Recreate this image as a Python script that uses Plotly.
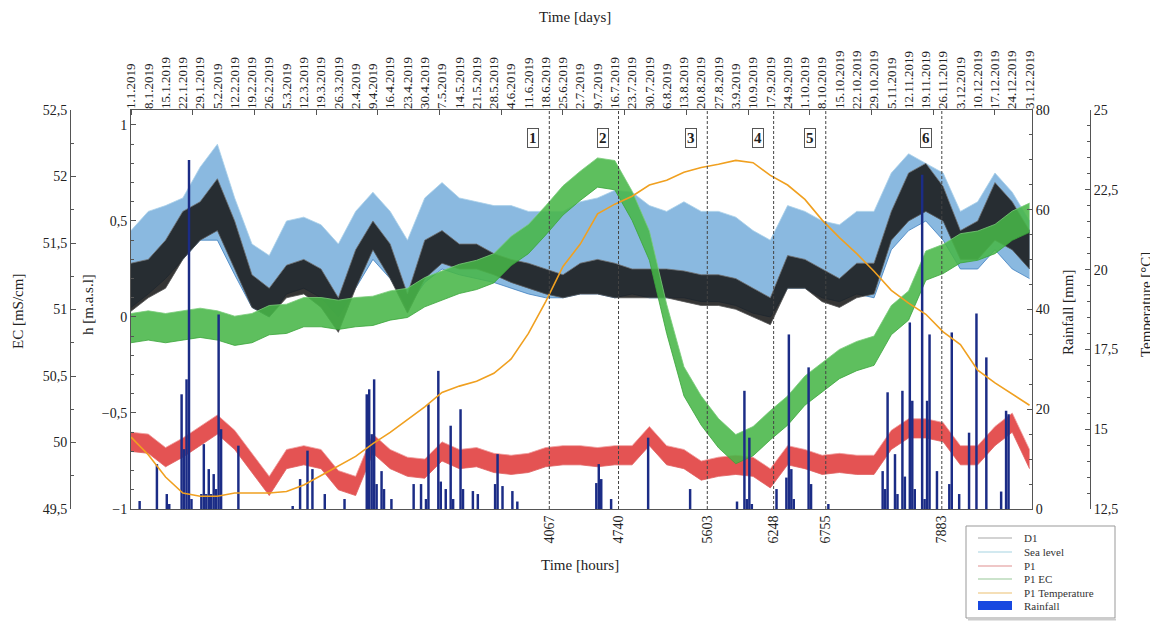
import plotly.graph_objects as go

# ---------------- data ----------------
week_day = list(range(0, 365, 7))  # 1.1.2019 ... 31.12.2019, weekly samples
date_labels = ["1.1.2019", "8.1.2019", "15.1.2019", "22.1.2019", "29.1.2019", "5.2.2019", "12.2.2019",
               "19.2.2019", "26.2.2019", "5.3.2019", "12.3.2019", "19.3.2019", "26.3.2019", "2.4.2019",
               "9.4.2019", "16.4.2019", "23.4.2019", "30.4.2019", "7.5.2019", "14.5.2019", "21.5.2019",
               "28.5.2019", "4.6.2019", "11.6.2019", "18.6.2019", "25.6.2019", "2.7.2019", "9.7.2019",
               "16.7.2019", "23.7.2019", "30.7.2019", "6.8.2019", "13.8.2019", "20.8.2019", "27.8.2019",
               "3.9.2019", "10.9.2019", "17.9.2019", "24.9.2019", "1.10.2019", "8.10.2019", "15.10.2019",
               "22.10.2019", "29.10.2019", "5.11.2019", "12.11.2019", "19.11.2019", "26.11.2019",
               "3.12.2019", "10.12.2019", "17.12.2019", "24.12.2019", "31.12.2019"]

# Sea level envelope (h, m a.s.l.)
sea_hi = [0.45, 0.55, 0.58, 0.62, 0.78, 0.90, 0.62, 0.38, 0.32, 0.50, 0.52, 0.48, 0.38, 0.55, 0.65, 0.55,
          0.40, 0.62, 0.70, 0.62, 0.60, 0.58, 0.58, 0.55, 0.55, 0.55, 0.60, 0.62, 0.66, 0.65, 0.58, 0.55,
          0.60, 0.55, 0.55, 0.52, 0.45, 0.40, 0.58, 0.55, 0.50, 0.48, 0.55, 0.55, 0.75, 0.85, 0.80, 0.75,
          0.55, 0.60, 0.75, 0.65, 0.50]
sea_lo = [0.05, 0.12, 0.20, 0.30, 0.40, 0.40, 0.22, 0.05, 0.00, 0.12, 0.15, 0.10, 0.00, 0.15, 0.30, 0.20,
          0.05, 0.18, 0.25, 0.22, 0.20, 0.18, 0.15, 0.12, 0.10, 0.10, 0.12, 0.12, 0.10, 0.12, 0.10, 0.10,
          0.10, 0.08, 0.08, 0.06, 0.02, 0.00, 0.15, 0.15, 0.10, 0.08, 0.12, 0.10, 0.35, 0.45, 0.50, 0.40,
          0.25, 0.25, 0.35, 0.25, 0.20]
# D1 envelope (h)
d1_hi = [0.28, 0.30, 0.40, 0.55, 0.60, 0.72, 0.50, 0.22, 0.15, 0.27, 0.30, 0.25, 0.10, 0.35, 0.50, 0.38,
         0.12, 0.40, 0.45, 0.38, 0.38, 0.33, 0.30, 0.28, 0.25, 0.22, 0.28, 0.30, 0.28, 0.25, 0.25, 0.25,
         0.24, 0.22, 0.22, 0.20, 0.15, 0.10, 0.32, 0.30, 0.25, 0.20, 0.28, 0.28, 0.55, 0.75, 0.80, 0.68,
         0.45, 0.50, 0.70, 0.60, 0.45]
d1_lo = [0.03, 0.10, 0.15, 0.30, 0.40, 0.45, 0.25, 0.05, 0.00, 0.10, 0.12, 0.05, -0.08, 0.15, 0.35, 0.20,
         0.02, 0.20, 0.28, 0.25, 0.25, 0.22, 0.18, 0.15, 0.12, 0.10, 0.12, 0.12, 0.10, 0.10, 0.10, 0.10,
         0.08, 0.06, 0.06, 0.04, 0.00, -0.04, 0.15, 0.15, 0.08, 0.05, 0.10, 0.12, 0.40, 0.50, 0.55, 0.50,
         0.30, 0.30, 0.40, 0.35, 0.25]
# P1 level envelope (h)
p1_hi = [-0.60, -0.61, -0.68, -0.63, -0.57, -0.51, -0.59, -0.71, -0.83, -0.69, -0.67, -0.69, -0.80, -0.83,
         -0.61, -0.69, -0.73, -0.74, -0.65, -0.69, -0.68, -0.71, -0.72, -0.71, -0.68, -0.67, -0.67, -0.68,
         -0.67, -0.67, -0.57, -0.67, -0.69, -0.75, -0.73, -0.72, -0.73, -0.79, -0.67, -0.69, -0.72, -0.71,
         -0.72, -0.72, -0.59, -0.53, -0.53, -0.55, -0.67, -0.67, -0.57, -0.50, -0.69]
p1_lo = [-0.70, -0.71, -0.78, -0.73, -0.67, -0.61, -0.69, -0.81, -0.93, -0.79, -0.77, -0.79, -0.90, -0.93,
         -0.71, -0.79, -0.83, -0.84, -0.75, -0.79, -0.78, -0.81, -0.82, -0.81, -0.78, -0.77, -0.77, -0.78,
         -0.77, -0.77, -0.67, -0.77, -0.79, -0.85, -0.83, -0.82, -0.83, -0.89, -0.77, -0.79, -0.82, -0.81,
         -0.82, -0.82, -0.69, -0.63, -0.63, -0.65, -0.77, -0.77, -0.67, -0.60, -0.79]
# P1 EC envelope (mS/cm)
ec_hi = [50.97, 50.99, 50.97, 50.99, 51.01, 50.99, 50.95, 50.97, 51.03, 51.04, 51.09, 51.09, 51.07, 51.09,
         51.10, 51.14, 51.16, 51.24, 51.29, 51.34, 51.37, 51.42, 51.55, 51.64, 51.78, 51.93, 52.04, 52.14,
         52.12, 51.89, 51.59, 51.04, 50.57, 50.35, 50.18, 50.06, 50.12, 50.24, 50.35, 50.50, 50.60, 50.70,
         50.76, 50.80, 51.03, 51.14, 51.44, 51.49, 51.57, 51.59, 51.64, 51.74, 51.80]
ec_lo = [50.75, 50.77, 50.75, 50.77, 50.79, 50.77, 50.73, 50.75, 50.81, 50.82, 50.87, 50.87, 50.85, 50.87,
         50.88, 50.92, 50.94, 51.02, 51.07, 51.12, 51.15, 51.20, 51.33, 51.42, 51.56, 51.71, 51.82, 51.92,
         51.90, 51.67, 51.37, 50.82, 50.35, 50.13, 49.96, 49.84, 49.90, 50.02, 50.13, 50.28, 50.38, 50.48,
         50.54, 50.58, 50.81, 50.92, 51.22, 51.27, 51.35, 51.37, 51.42, 51.52, 51.58]
# P1 temperature (deg C)
p1_temp = [14.75, 14.2, 13.5, 13.0, 12.9, 12.9, 13.0, 13.0, 13.0, 13.05, 13.25, 13.55, 13.85, 14.15, 14.55,
           14.9, 15.3, 15.7, 16.15, 16.35, 16.5, 16.75, 17.2, 18.0, 19.0, 20.1, 20.8, 21.75, 22.05, 22.3,
           22.65, 22.8, 23.05, 23.2, 23.3, 23.42, 23.35, 22.95, 22.65, 22.2, 21.55, 21.0, 20.5, 19.95, 19.35,
           18.95, 18.6, 18.05, 17.65, 16.85, 16.45, 16.1, 15.75]
# Daily rainfall (mm)
rain_day = [3, 10, 14, 15, 20, 21, 22, 23, 24, 28, 29, 30, 31, 32, 33, 34, 35, 36, 43, 65, 68, 71, 73, 78, 86,
            95, 96, 97, 98, 99, 101, 102, 105, 114, 117, 119, 120, 124, 125, 127, 129, 130, 133, 134, 138, 140,
            147, 148, 150, 154, 156, 188, 189, 190, 194, 209, 226, 245, 248, 249, 250, 251, 261, 265, 266, 267,
            268, 274, 275, 282, 304, 305, 306, 309, 310, 312, 313, 315, 316, 317, 320, 321, 322, 323, 326, 331,
            332, 335, 339, 342, 346, 352, 354, 355]
rain_mm = [1.6, 9, 3, 1, 23, 12, 26, 70, 2, 3, 13, 3, 8, 3, 7, 4, 39, 16, 12.7, 0.6, 6, 11.7, 8, 3, 2,
           23, 24, 15, 26, 5, 7.6, 4, 2, 5, 5, 2, 21, 27.7, 5.5, 4, 16.7, 2, 20, 4, 3.6, 3,
           5, 11, 4.6, 3.6, 1.5, 5.2, 9, 6, 2, 14.3, 4, 1.5, 23.7, 2, 14.3, 1, 4, 6.3, 35, 8,
           2, 28.4, 5, 1, 7.6, 4, 23.4, 11, 3, 23.7, 6.5, 37.4, 21.7, 4, 67, 2, 21.7, 35, 7.6, 5,
           35.4, 3, 15.3, 39.2, 30.4, 3.5, 19.7, 19]
# Event markers (hours)
event_hours = [4067, 4740, 5603, 6248, 6755, 7883]
event_labels = ["1", "2", "3", "4", "5", "6"]
legend_names = ["D1", "Sea level", "P1", "P1 EC", "P1 Temperature", "Rainfall"]
legend_colors = ["#a8a8a8", "#a6d4e2", "#e09090", "#98c898", "#ecc070", "#1848e0"]

# ---------------- layout helpers ----------------
# The page body has an 8 px margin, so the figure is drawn at (8, 8) in the screenshot.
OFF = 8
W, H = 1150, 613
PLOT_L, PLOT_R, PLOT_T, PLOT_B = 131, 1032, 110, 509  # screenshot pixels
MT = PLOT_T - OFF
MB = H - (PLOT_B - OFF)
PH = H - MT - MB


def px_x(px):
    return (px - OFF) / W


def px_y(py):
    return (PLOT_B - py) / PH


FONT = "Liberation Serif"
AX = "#555555"
hours_w = [d * 24 for d in week_day]
rain_h = [d * 24 + 12 for d in rain_day]

fig = go.Figure()


def band(lo, hi, yaxis, fillcolor, locolor, hicolor, name):
    fig.add_trace(go.Scatter(x=hours_w, y=lo, yaxis=yaxis, mode="lines", name=name,
                             line=dict(color=locolor, width=0.8), showlegend=False, hoverinfo="skip"))
    fig.add_trace(go.Scatter(x=hours_w, y=hi, yaxis=yaxis, mode="lines", fill="tonexty", name=name,
                             fillcolor=fillcolor, line=dict(color=hicolor, width=0.8),
                             showlegend=False, hoverinfo="skip"))


# h axis series
band(sea_lo, sea_hi, "y", "rgba(105,165,215,0.78)", "#3f7fbf", "#a9d0ea", "Sea level")
band(d1_lo, d1_hi, "y", "rgba(25,25,25,0.88)", "#555555", "#707070", "D1")
band(p1_lo, p1_hi, "y", "rgba(222,45,45,0.82)", "#e06060", "#f0a0a0", "P1")
# EC
band(ec_lo, ec_hi, "y2", "rgba(72,182,72,0.88)", "#3aa53a", "#78cc78", "P1 EC")
# Rainfall
fig.add_trace(go.Bar(x=rain_h, y=rain_mm, yaxis="y3", width=24, name="Rainfall",
                     marker=dict(color="#1b2c86", line=dict(width=0)), showlegend=False, hoverinfo="skip"))
# Temperature
fig.add_trace(go.Scatter(x=hours_w, y=p1_temp, yaxis="y4", mode="lines", name="P1 Temperature",
                         line=dict(color="#f0a020", width=1.6), showlegend=False))

shapes = []
annotations = []
for hv, lab in zip(event_hours, event_labels):
    shapes.append(dict(type="line", xref="x", yref="paper", x0=hv, x1=hv, y0=0, y1=1,
                       line=dict(color="#444444", width=1, dash="3px,2px")))
    annotations.append(dict(xref="x", yref="paper", x=hv, xshift=-16, y=px_y(128), text="<b>" + lab + "</b>",
                            showarrow=False, font=dict(size=15, family=FONT, color="#222"),
                            bordercolor="#555", borderwidth=1, borderpad=1, bgcolor="white"))

for txt, xp, yp, ang in [("Time [days]", 575, 17, 0), ("Time [hours]", 580, 565, 0),
                         ("EC [mS/cm]", 18, 312, -90), ("h [m.a.s.l]", 88, 305, -90),
                         ("Rainfall [mm]", 1068, 313, -90), ("Temperature [°C]", 1146, 305, -90)]:
    annotations.append(dict(xref="paper", yref="paper", x=px_x(xp), y=px_y(yp), text=txt, textangle=ang,
                            xanchor="center", yanchor="middle",
                            showarrow=False, font=dict(size=15, family=FONT, color="#222")))

# legend box (drawn by hand to match the compact original)
shapes.append(dict(type="rect", xref="paper", yref="paper", x0=px_x(966), x1=px_x(1115),
                   y0=px_y(618), y1=px_y(526), line=dict(color="#999999", width=1), fillcolor="white",
                   layer="above"))
shapes.append(dict(type="line", xref="paper", yref="paper", x0=px_x(968), x1=px_x(1116),
                   y0=px_y(619.5), y1=px_y(619.5), line=dict(color="#cccccc", width=2), layer="above"))
row_y = [538, 552, 566, 579, 593, 606]
for nm, col, ry in zip(legend_names, legend_colors, row_y):
    if nm == "Rainfall":
        shapes.append(dict(type="rect", xref="paper", yref="paper", x0=px_x(978), x1=px_x(1012),
                           y0=px_y(610), y1=px_y(601), line=dict(width=0), fillcolor=col, layer="above"))
    else:
        shapes.append(dict(type="line", xref="paper", yref="paper", x0=px_x(978), x1=px_x(1012),
                           y0=px_y(ry), y1=px_y(ry), line=dict(color=col, width=1.2), layer="above"))
    annotations.append(dict(xref="paper", yref="paper", x=px_x(1022), y=px_y(ry), text=nm,
                            xanchor="left", yanchor="middle", showarrow=False,
                            font=dict(size=11, family=FONT, color="#333")))

tickfont = dict(size=14, family=FONT, color="#222")
fig.update_layout(
    width=W, height=H, margin=dict(l=0, r=0, t=MT, b=MB, autoexpand=False),
    paper_bgcolor="white", plot_bgcolor="white", separators=", ", barmode="overlay",
    font=dict(family=FONT, color="#222"),
    shapes=shapes, annotations=annotations, showlegend=False,
    xaxis=dict(domain=[px_x(PLOT_L), px_x(PLOT_R)], range=[0, 8760], anchor="y",
               tickmode="array", tickvals=event_hours, ticktext=[str(v) for v in event_hours],
               tickangle=-90, ticks="", tickfont=tickfont, showline=True, linecolor=AX, mirror=True,
               showgrid=False, zeroline=False),
    xaxis2=dict(overlaying="x", side="top", anchor="y", range=[0, 8760],
                tickmode="array", tickvals=hours_w, ticktext=date_labels, tickangle=-90, ticks="",
                tickfont=dict(size=13, family=FONT, color="#222"), showgrid=False, zeroline=False,
                minor=dict(tickmode="linear", tick0=0, dtick=600, ticks="inside", ticklen=5, tickcolor=AX)),
    yaxis=dict(range=[-1, 1.078], tickvals=[-1, -0.5, 0, 0.5, 1], ticks="inside", ticklen=5, tickcolor=AX,
               tickfont=tickfont, showline=True, linecolor=AX, showgrid=False, zeroline=False,
               minor=dict(dtick=0.1, tick0=0, ticks="inside", ticklen=3, tickcolor=AX)),
    yaxis2=dict(overlaying="y", anchor="free", position=px_x(70), side="left", range=[49.5, 52.5],
                tickvals=[49.5, 50, 50.5, 51, 51.5, 52, 52.5], ticks="inside", ticklen=5, tickcolor=AX,
                tickfont=tickfont, showline=True, linecolor=AX, showgrid=False, zeroline=False,
                minor=dict(dtick=0.25, tick0=49.5, ticks="inside", ticklen=3, tickcolor=AX)),
    yaxis3=dict(overlaying="y", anchor="x", side="right", range=[0, 80], tickvals=[0, 20, 40, 60, 80],
                ticks="inside", ticklen=5, tickcolor=AX, tickfont=tickfont, showline=True, linecolor=AX,
                showgrid=False, zeroline=False,
                minor=dict(dtick=5, tick0=0, ticks="inside", ticklen=3, tickcolor=AX)),
    yaxis4=dict(overlaying="y", anchor="free", position=px_x(1090), side="right", range=[12.5, 25],
                tickvals=[12.5, 15, 17.5, 20, 22.5, 25], ticks="inside", ticklen=5, tickcolor=AX,
                tickfont=tickfont, showline=True, linecolor=AX, showgrid=False, zeroline=False,
                minor=dict(dtick=0.5, tick0=12.5, ticks="inside", ticklen=3, tickcolor=AX)),
)

# invisible trace on the top date axis so it is rendered
fig.add_trace(go.Scatter(x=[None], y=[None], xaxis="x2", showlegend=False, hoverinfo="skip"))

fig.write_html("out.html")
